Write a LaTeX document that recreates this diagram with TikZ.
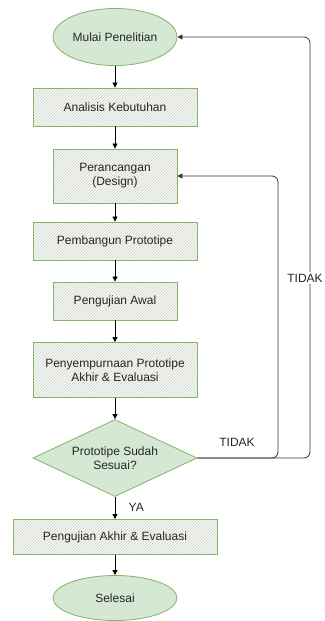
\documentclass[tikz,border=0pt]{standalone}
\usepackage{fontspec}
\setmainfont{Liberation Sans}
\usepackage{tikz}
\usetikzlibrary{shapes.geometric,patterns,arrows.meta}
\definecolor{hijau}{HTML}{D5E8D4}
\definecolor{garis}{HTML}{82B366}
\definecolor{arsir}{HTML}{C9D1C5}
\def\teks{\fontsize{12}{14}\selectfont}

\begin{document}
\begin{tikzpicture}[x=1pt,y=-1pt,
    every node/.style={font=\teks,align=center,text=black!85},
    ujung/.style={ellipse,draw=garis,fill=hijau,line width=0.8pt,minimum width=124pt,minimum height=57pt,inner sep=0pt},
    proses/.style={rectangle,draw=garis,line width=0.9pt,preaction={fill=gray!5},pattern=north east lines,pattern color=arsir,minimum width=164pt,minimum height=38pt,inner sep=0pt},
    keputusan/.style={diamond,draw=garis,fill=hijau,line width=0.8pt,minimum width=164pt,minimum height=77pt,aspect=2.13,inner sep=0pt},
    panah/.style={-{Triangle[length=5pt,width=5pt]},line width=0.8pt},
    balik/.style={panah,rounded corners=6pt,draw=black!80}]
    \useasboundingbox (0,0) rectangle (324,621);
    \node[ujung] (mulai) at (115,37) {Mulai Penelitian};
    \node[proses] (analisis) at (115,107) {Analisis Kebutuhan};
    \node[proses,minimum width=124pt,minimum height=54pt] (rancang) at (115,176) {Perancangan\\(Design)};
    \node[proses] (bangun) at (115,241) {Pembangun Prototipe};
    \node[proses,minimum width=124pt] (uji) at (115,301) {Pengujian Awal};
    \node[proses,minimum height=55pt] (sempurna) at (115,370) {Penyempurnaan Prototipe\\Akhir \& Evaluasi};
    \node[keputusan] (cek) at (115,458) {Prototipe Sudah\\Sesuai?};
    \node[proses,minimum width=204pt,minimum height=35pt] (akhir) at (115,537) {Pengujian Akhir \& Evaluasi};
    \node[ujung,minimum height=45pt] (selesai) at (115,598) {Selesai};
    \coordinate (kanan1) at (278,458);
    \coordinate (kanan2) at (310,458);
    \draw[panah] (mulai) -- (analisis);
    \draw[panah] (analisis) -- (rancang);
    \draw[panah] (rancang) -- (bangun);
    \draw[panah] (bangun) -- (uji);
    \draw[panah] (uji) -- (sempurna);
    \draw[panah] (sempurna) -- (cek);
    \draw[panah] (cek) -- (akhir) node[pos=0.45,right=10pt] (ya) {YA};
    \draw[panah] (akhir) -- (selesai);
    \draw[balik] (cek.east) -- (kanan1) |- (rancang.east);
    \draw[balik] (cek.east) -- (kanan2) |- (mulai.east);
    \node (tidak1) at (237,442) {TIDAK};
    \node[fill=white,inner sep=1.5pt] (tidak2) at (305,278) {TIDAK};
\end{tikzpicture}
\end{document}
